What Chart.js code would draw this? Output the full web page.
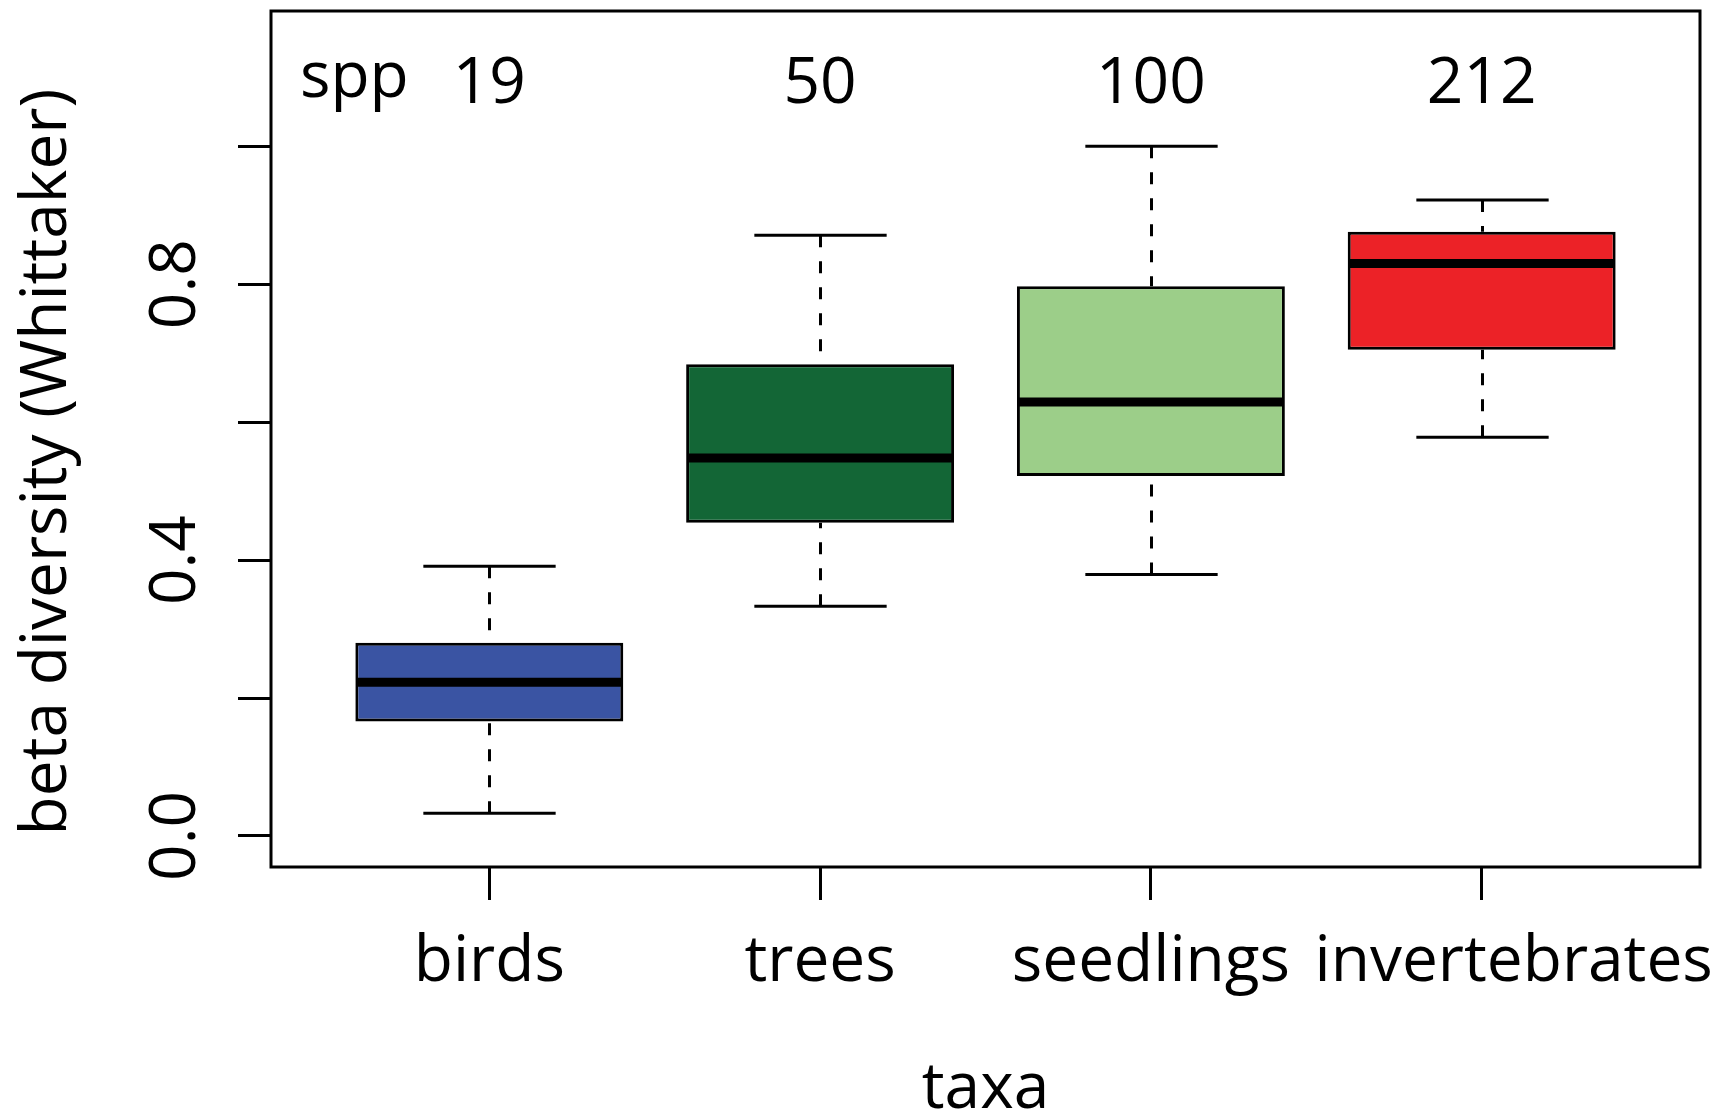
<!DOCTYPE html>
<html>
<head>
<meta charset="utf-8">
<script src="https://cdn.jsdelivr.net/npm/chart.js@4.4.1/dist/chart.umd.min.js"></script>
<style>
  html, body { margin: 0; padding: 0; background: #fff; }
  canvas { display: block; }
</style>
</head>
<body>
<canvas id="c" width="1723" height="1115" style="width:1723px;height:1115px"></canvas>
<script>
// ---- data ----
const categories   = ['birds', 'trees', 'seedlings', 'invertebrates'];
const speciesCount = ['19', '50', '100', '212'];
const positions    = [1, 2, 3, 4];
const whiskerLow   = [0.033, 0.333, 0.379, 0.578];
const q1           = [0.166, 0.454, 0.522, 0.705];
const median       = [0.223, 0.548, 0.629, 0.830];
const q3           = [0.280, 0.684, 0.797, 0.876];
const whiskerHigh  = [0.391, 0.871, 1.000, 0.922];
const yTickValues  = [0.0, 0.2, 0.4, 0.6, 0.8, 1.0];
const yTickLabels  = ['0.0', '', '0.4', '', '0.8', ''];
const boxColors    = ['#3A54A3', '#136636', '#9CCE89', '#EC2227'];

const FONT = '"Open Sans", "Noto Sans", sans-serif';

const boxExtras = {
  id: 'boxExtras',
  afterDatasetsDraw(chart) {
    const ctx = chart.ctx, xs = chart.scales.x, ys = chart.scales.y;
    const meta = chart.getDatasetMeta(0);
    const seg = (x1, y1, x2, y2) => { ctx.beginPath(); ctx.moveTo(x1, y1); ctx.lineTo(x2, y2); ctx.stroke(); };
    ctx.save();
    ctx.strokeStyle = '#000';
    ctx.lineCap = 'butt';
    positions.forEach((p, i) => {
      const x = Math.round(xs.getPixelForValue(p)) + 0.5;
      const bar = meta.data[i];
      const half = bar.width / 2;
      const capHalf = xs.getPixelForValue(p + 0.2) - xs.getPixelForValue(p);
      ctx.lineWidth = 3;
      ctx.setLineDash([12, 14]);
      seg(x, ys.getPixelForValue(whiskerHigh[i]), x, ys.getPixelForValue(q3[i]));
      seg(x, ys.getPixelForValue(whiskerLow[i]), x, ys.getPixelForValue(q1[i]));
      ctx.setLineDash([]);
      const yh = ys.getPixelForValue(whiskerHigh[i]);
      const yl = ys.getPixelForValue(whiskerLow[i]);
      seg(x - capHalf, yh, x + capHalf, yh);
      seg(x - capHalf, yl, x + capHalf, yl);
      ctx.lineWidth = 9;
      const ym = ys.getPixelForValue(median[i]);
      seg(bar.x - half + 1.5, ym, bar.x + half - 1.5, ym);
    });
    ctx.restore();
  },
  afterDraw(chart, args, opts) {
    const ctx = chart.ctx, xs = chart.scales.x, ys = chart.scales.y;
    const a = chart.chartArea;
    ctx.save();
    ctx.strokeStyle = '#000';
    ctx.lineWidth = 3;
    ctx.strokeRect(a.left, a.top, a.right - a.left, a.bottom - a.top);

    ctx.fillStyle = '#000';
    ctx.font = '64px ' + FONT;
    ctx.textBaseline = 'alphabetic';
    ctx.textAlign = 'center';

    positions.forEach((p, i) => {
      const x = xs.getPixelForValue(p) + opts.labelShift[i];
      ctx.fillText(categories[i], x, a.bottom + 114);
    });
    positions.forEach((p, i) => {
      ctx.fillText(speciesCount[i], xs.getPixelForValue(p), a.top + 92);
    });
    ctx.fillText('spp', xs.getPixelForValue(positions[0]) - 135, a.top + 86);

    ctx.fillText('taxa', (a.left + a.right) / 2, a.bottom + 241);

    yTickValues.forEach((v, i) => {
      if (!yTickLabels[i]) return;
      ctx.save();
      ctx.translate(a.left - 76, ys.getPixelForValue(v));
      ctx.rotate(-Math.PI / 2);
      ctx.fillText(yTickLabels[i], 0, 0);
      ctx.restore();
    });
    ctx.save();
    ctx.translate(66, 462);
    ctx.rotate(-Math.PI / 2);
    ctx.fillText('beta diversity (Whittaker)', 0, 0);
    ctx.restore();

    ctx.restore();
  }
};

function build() {
  new Chart(document.getElementById('c'), {
    type: 'bar',
    data: {
      datasets: [{
        data: positions.map((p, i) => ({ x: p, y: [q1[i], q3[i]] })),
        backgroundColor: boxColors,
        borderColor: '#000',
        borderWidth: 3,
        borderSkipped: false,
        barPercentage: 0.81,
        categoryPercentage: 1.0
      }]
    },
    options: {
      responsive: false,
      devicePixelRatio: 1,
      animation: false,
      layout: { padding: { left: 238, top: 11, right: 23, bottom: 215 } },
      plugins: {
        legend: { display: false },
        tooltip: { enabled: false },
        boxExtras: { labelShift: [0, 0, 0, 32] }
      },
      scales: {
        x: {
          type: 'linear',
          offset: false,
          min: 0.34,
          max: 4.66,
          afterBuildTicks: (s) => { s.ticks = positions.map(v => ({ value: v })); },
          ticks: { display: false },
          grid: { display: true, offset: false, drawOnChartArea: false, drawTicks: true, tickLength: 33, color: '#000', lineWidth: 3 },
          border: { display: false }
        },
        y: {
          type: 'linear',
          offset: false,
          min: -0.045,
          max: 1.196,
          afterBuildTicks: (s) => { s.ticks = yTickValues.map(v => ({ value: v })); },
          ticks: { display: false },
          grid: { display: true, offset: false, drawOnChartArea: false, drawTicks: true, tickLength: 33, color: '#000', lineWidth: 3 },
          border: { display: false }
        }
      }
    },
    plugins: [boxExtras]
  });
}

if (document.fonts && document.fonts.load) {
  document.fonts.load('64px "Open Sans"').then(build, build);
} else {
  build();
}
</script>
</body>
</html>
